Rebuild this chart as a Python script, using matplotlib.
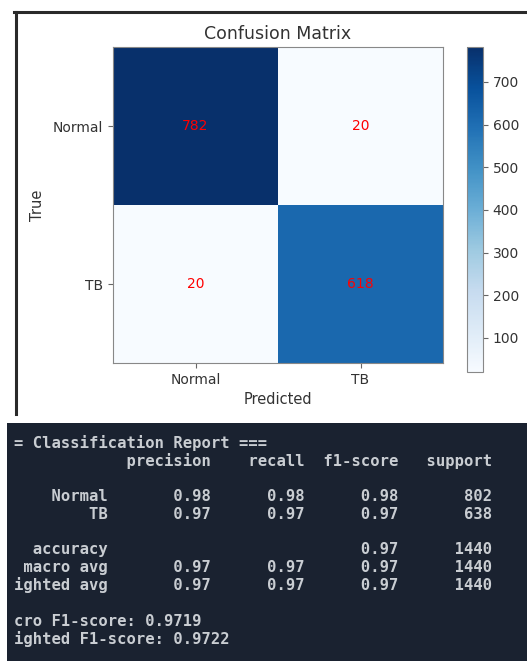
import matplotlib
matplotlib.use("Agg")
import matplotlib.pyplot as plt
from matplotlib.lines import Line2D
from matplotlib.patches import Rectangle
import numpy as np

# Confusion matrix counts
class_names = ["Normal", "TB"]
cm_row_normal = [782, 20]
cm_row_tb = [20, 618]

# Classification report figures
precision = [0.98, 0.97]
recall = [0.98, 0.97]
f1_score = [0.98, 0.97]
support = [802, 638]
accuracy = 0.97
macro_avg = [0.97, 0.97, 0.97]
weighted_avg = [0.97, 0.97, 0.97]
total_support = 1440
micro_f1 = 0.9719
weighted_f1 = 0.9722

W, H = 527, 661
fig = plt.figure(figsize=(W / 100, H / 100), dpi=100)
fig.patch.set_facecolor("white")

def fx(px):
    return px / W

def fy(py):
    return 1 - py / H

text_col = "#333333"

# ---- confusion matrix panel ----
cm = np.array([cm_row_normal, cm_row_tb])
ax = fig.add_axes([fx(113), fy(363), fx(443) - fx(113), fy(47) - fy(363)])
im = ax.imshow(cm, cmap="Blues", aspect="auto", interpolation="nearest")
for i in range(cm.shape[0]):
    for j in range(cm.shape[1]):
        ax.text(j, i, str(cm[i, j]), ha="center", va="center",
                color="red", fontsize=10)
ax.set_xticks(range(len(class_names)))
ax.set_xticklabels(class_names, fontsize=10, color=text_col)
ax.set_yticks(range(len(class_names)))
ax.set_yticklabels(class_names, fontsize=10, color=text_col)
ax.set_xlabel("Predicted", fontsize=10.5, color=text_col)
ax.set_ylabel("True", fontsize=10.5, color=text_col, labelpad=6)
ax.set_title("Confusion Matrix", fontsize=12.5, color=text_col, pad=6)
for s in ax.spines.values():
    s.set_color("#888888")
ax.tick_params(colors="#666666", labelcolor=text_col)

cax = fig.add_axes([fx(467), fy(372), fx(483) - fx(467), fy(47) - fy(372)])
cb = fig.colorbar(im, cax=cax)
cb.set_ticks([100, 200, 300, 400, 500, 600, 700])
cb.ax.tick_params(labelsize=10, colors="#666666", labelcolor=text_col)
cb.outline.set_edgecolor("#888888")

# screenshot frame around the plot
fig.add_artist(Line2D([fx(14), fx(W)], [fy(12), fy(12)], color="#2a2a2a",
                      lw=2.2, transform=fig.transFigure))
fig.add_artist(Line2D([fx(15.5), fx(15.5)], [fy(12), fy(414)], color="#2a2a2a",
                      lw=2.2, transform=fig.transFigure))

# ---- classification report panel ----
fig.add_artist(Rectangle((fx(7), 0), 1 - fx(7), fy(423), facecolor="#1a2230",
                         edgecolor="none", transform=fig.transFigure))

width = 12
lines = ["=== Classification Report ==="]
lines.append(f"{'':>{width}s} " + "".join(f" {h:>9}" for h in
             ["precision", "recall", "f1-score", "support"]))
lines.append("")
for name, p, r, f, s in zip(class_names, precision, recall, f1_score, support):
    lines.append(f"{name:>{width}s} " + f" {p:>9.2f}" + f" {r:>9.2f}"
                 + f" {f:>9.2f}" + f" {s:>9}")
lines.append("")
lines.append(f"{'accuracy':>{width}s} " + " " * 20 + f" {accuracy:>9.2f}"
             + f" {total_support:>9}")
for name, vals in (("macro avg", macro_avg), ("weighted avg", weighted_avg)):
    lines.append(f"{name:>{width}s} " + "".join(f" {v:>9.2f}" for v in vals)
                 + f" {total_support:>9}")
lines.append("")
lines.append(f"Micro F1-score: {micro_f1:.4f}")
lines.append(f"Weighted F1-score: {weighted_f1:.4f}")

# the terminal view is scrolled two columns to the right
shown = [ln[2:] for ln in lines]
y0 = 443
dy = 17.8
for k, ln in enumerate(shown):
    if not ln:
        continue
    fig.text(fx(14), fy(y0 + k * dy), ln, family="DejaVu Sans Mono",
             fontsize=11.2, color="#c9cdd2", weight="bold", va="center",
             ha="left")

fig.savefig("out.png", dpi=100)
